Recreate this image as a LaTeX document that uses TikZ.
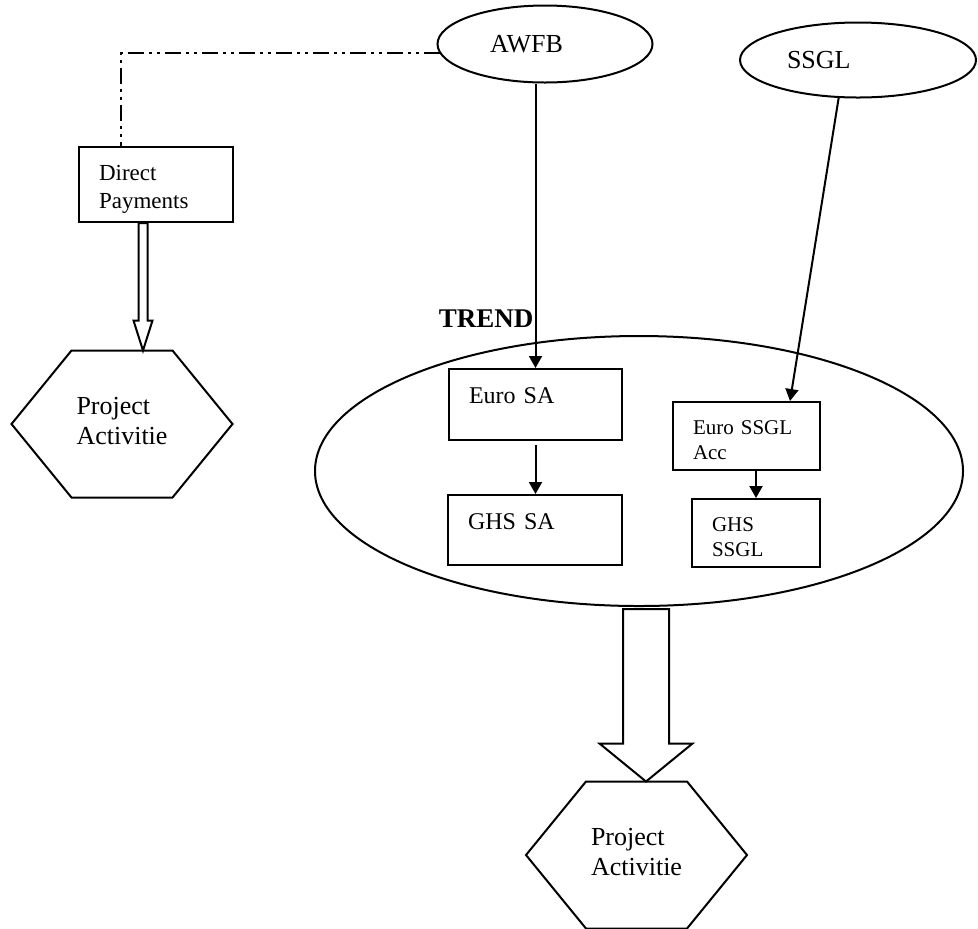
\documentclass[tikz,border=0pt]{standalone}
\usepackage{fontspec}
\setmainfont{Liberation Serif}
\usetikzlibrary{arrows.meta,shapes.geometric,positioning,calc}

\begin{document}
\begin{tikzpicture}[
    x=0.5pt, y=-0.5pt,
    line width=1pt,
    fund/.style={ellipse, draw, align=left, font=\fontsize{13}{15}\selectfont},
    acct/.style={rectangle, draw, anchor=north west, align=left, inner xsep=10pt, inner ysep=0pt},
    hexa/.style={draw=none, minimum width=109.5pt, minimum height=72.5pt, align=left, font=\fontsize{13}{15}\selectfont},
    arrow/.style={-{Triangle[length=6pt,width=6.5pt]}},
    fat/.style={line join=miter},
    dashdot/.style={dash pattern=on 8pt off 2.5pt on 1.5pt off 2.5pt on 1.5pt off 2.5pt}
]
    \useasboundingbox (0,0) rectangle (978,928);

    % Sources
    \node[fund, minimum width=107.5pt, minimum height=38.5pt, text width=55pt] (awfb) at (545,44) {AWFB};
    \node[fund, minimum width=118pt, minimum height=37.5pt, text width=71pt] (ssgl) at (858,60) {SSGL};

    % Direct payments
    \node[acct, text width=57pt, text height=16.5pt, text depth=21pt, font=\fontsize{11.5}{14}\selectfont] (direct) at (78,146) {Direct\\Payments};

    % TREND
    \node[ellipse, draw, minimum width=324pt, minimum height=135pt] (trendpool) at (639,471) {};
    \node[font=\bfseries\fontsize{13.5}{16}\selectfont] (trendlbl) at (486,319) {TREND};
    \node[acct, text width=66.5pt, text height=17pt, text depth=18.5pt, font=\fontsize{12}{14}\selectfont] (eurosa) at (448,368) {Euro SA};
    \node[acct, text width=67pt, text height=17pt, text depth=18pt, font=\fontsize{12}{14}\selectfont] (ghssa) at (447,494) {GHS SA};
    \node[acct, text width=53.5pt, text height=16pt, text depth=18pt, font=\fontsize{10.5}{12.5}\selectfont] (eurossgl) at (672,401) {Euro SSGL\\Acc};
    \node[acct, text width=44pt, text height=16pt, text depth=18pt, font=\fontsize{10.5}{12.5}\selectfont] (ghsssgl) at (691,498) {GHS\\SSGL};

    % Activities
    \node[hexa] (pa1) at (122,421) {Project\\Activitie};
    \node[hexa] (pa2) at (636.5,852) {Project\\Activitie};
    \foreach \h in {pa1,pa2}
        \draw ([yshift=-1.5pt]\h.west) -- ([xshift=30pt,yshift=-1.5pt]\h.north west) -- ([xshift=-30pt,yshift=-1.5pt]\h.north east) -- ([yshift=-1.5pt]\h.east)
            -- ([xshift=-30pt,yshift=-1.5pt]\h.south east) -- ([xshift=30pt,yshift=-1.5pt]\h.south west) -- cycle;

    % Arrows
    \draw[dashdot] (awfb.185) -| ([xshift=21.5pt]direct.north west);
    \draw[arrow] (awfb.south -| eurosa.north) -- (eurosa.north);
    \draw[arrow] ([yshift=-2pt]eurosa.south) -- (ghssa.north -| eurosa.south);
    \draw[arrow] (ssgl.-117) -- ([xshift=-15.5pt]eurossgl.north east);
    \draw[arrow] (eurossgl.south -| ghsssgl.north) -- (ghsssgl.north);
    \draw[fat] let \p1=([xshift=-6.5pt]direct.south), \p2=([xshift=10.5pt,yshift=-1.5pt]pa1.north) in
        (\x1-2.25pt,\y1) -- (\x1-2.25pt,\y2+15pt) -- (\x1-4.75pt,\y2+15pt) -- (\x1,\y2)
        -- (\x1+4.75pt,\y2+15pt) -- (\x1+2.25pt,\y2+15pt) -- (\x1+2.25pt,\y1) -- cycle;
    \draw[fat] let \p1=([xshift=3.5pt,yshift=-1pt]trendpool.south), \p2=([xshift=4.75pt,yshift=-1.5pt]pa2.north) in
        (\x1-11.5pt,\y1) -- (\x1-11.5pt,\y2+19pt) -- (\x1-23.25pt,\y2+19pt) -- (\x1,\y2)
        -- (\x1+23.25pt,\y2+19pt) -- (\x1+11.5pt,\y2+19pt) -- (\x1+11.5pt,\y1) -- cycle;
\end{tikzpicture}
\end{document}
